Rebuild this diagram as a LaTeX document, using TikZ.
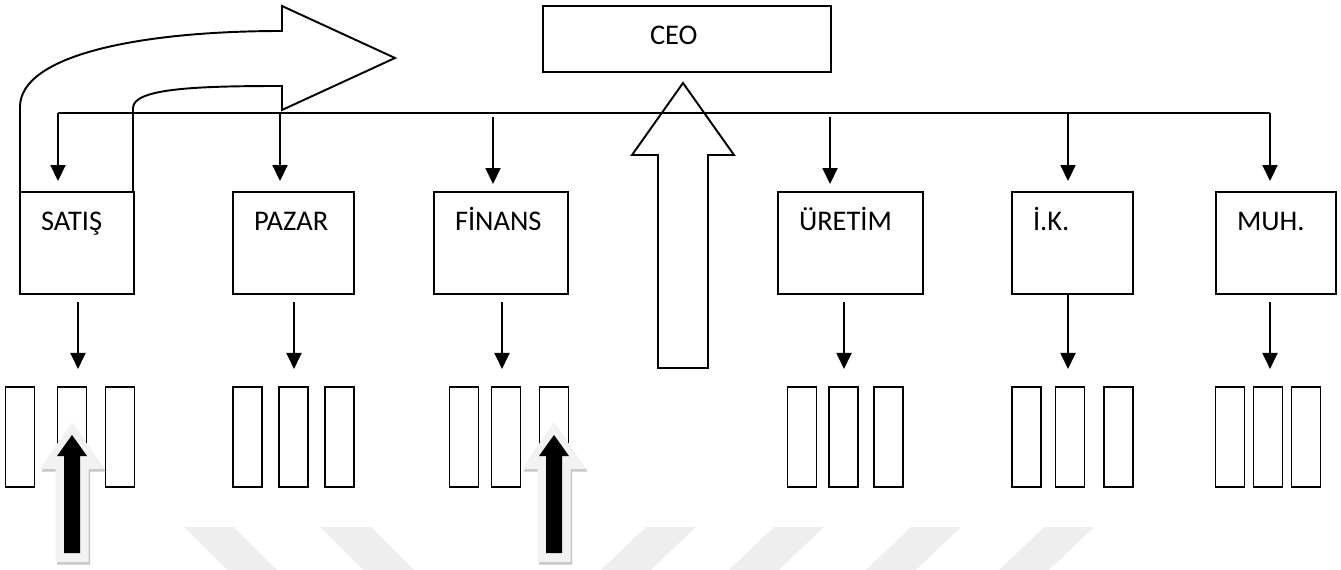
\documentclass[tikz,border=0pt]{standalone}
\usepackage{fontspec}
\setmainfont{Carlito}
\usepackage{tikz}
\usetikzlibrary{arrows.meta}
\usetikzlibrary{calc}

\newcommand{\px}{0.02cm}

\begin{document}
\begin{tikzpicture}[x=\px, y=-\px, line width=1.1pt, line join=miter,
  dept/.style={draw, inner sep=0pt, minimum height=102*\px},
  unit/.style={draw, inner sep=0pt, minimum width=29*\px, minimum height=100*\px},
  deptname/.style={inner sep=0pt, anchor=base west, font=\fontsize{16.2}{19}\selectfont},
  link/.style={-{Triangle[width=0.3cm, length=0.32cm]}},
  wmark/.style={fill=gray!13, draw=none}]
\useasboundingbox (0,0) rectangle (1341,570);
% faint stripes at the bottom
\fill[wmark] (184,527) -- (234,527) -- (277,570) -- (227,570) -- cycle;
\fill[wmark] (320,527) -- (371,527) -- (414,570) -- (363,570) -- cycle;
\foreach \l in {646,774,911,1044}
  \fill[wmark] (\l,527) -- ({\l+50},527) -- ({\l+5},570) -- ({\l-45},570) -- cycle;
% boxes
\node[dept, minimum width=288*\px, minimum height=66*\px] (ceo) at (687,39) {};
\node[dept, minimum width=114*\px] (satis) at (77,243) {};
\node[dept, minimum width=121*\px] (pazar) at (293.5,243) {};
\node[dept, minimum width=134*\px] (finans) at (501,243) {};
\node[dept, minimum width=145*\px] (uretim) at (850.5,243) {};
\node[dept, minimum width=121*\px] (ik) at (1072.5,243) {};
\node[dept, minimum width=120*\px] (muh) at (1276,243) {};
\node[deptname] (ceo-name) at ($(ceo.north west)+(107,39)$) {CEO};
\foreach \d/\t in {satis/SATIŞ, pazar/PAZAR, finans/FİNANS, uretim/ÜRETİM, ik/İ.K., muh/MUH.}
  \node[deptname] (\d-name) at ($(\d.north west)+(21,39)$) {\t};
% bus and drops
\draw ($(satis.north)+(-19,-78)$) -- ($(muh.north)+(-6,-78)$);
\foreach \d/\dx/\ya/\yb in {satis/-19/78/10, pazar/-13.5/78/10, finans/-8/74/7, uretim/-20.5/74/7, ik/-4.5/78/10, muh/-6/78/10}
  \draw[link] ($(\d.north)+(\dx,-\ya)$) -- ($(\d.north)+(\dx,-\yb)$);
\foreach \d/\dx/\gap in {satis/1/7, pazar/0.5/7, finans/1/7, uretim/-6.5/7, ik/-4.5/0, muh/-6/7}
  \draw[link] ($(\d.south)+(\dx,\gap)$) -- ($(\d.south)+(\dx,74)$);
% U-turn arrow over SATIŞ
\draw (20,192) -- (20,107) .. controls (20,55) and (140,31) .. (282,31) -- (282,6) -- (395,58)
  -- (282,110) -- (282,86) .. controls (200,86) and (133,88) .. (133,108) -- (133,192);
% big arrow up to CEO
\draw (658,368) -- (658,155) -- (632,155) -- (683,83) -- (734,155) -- (708,155) -- (708,368) -- cycle;
% small units
\foreach \n/\cx in {satis1/20, satis2/72, satis3/120, pazar1/247.5, pazar2/293.5, pazar3/339.5,
    finans1/464, finans2/506, finans3/554, uretim1/802, uretim2/843.5, uretim3/888.5,
    ik1/1026.5, ik2/1070, ik3/1118.5, muh1/1230, muh2/1268, muh3/1306}
  \node[unit] (\n) at (\cx,437) {};
% black arrows from below
\foreach \cx in {72,554} {
  \fill[gray!45, shift={(1.5,2.5)}] ({\cx-16.5},562) -- ({\cx-16.5},469) -- ({\cx-32},469) -- (\cx,422)
    -- ({\cx+32},469) -- ({\cx+16.5},469) -- ({\cx+16.5},562) -- cycle;
  \fill[gray!10] ({\cx-16.5},562) -- ({\cx-16.5},469) -- ({\cx-32},469) -- (\cx,422)
    -- ({\cx+32},469) -- ({\cx+16.5},469) -- ({\cx+16.5},562) -- cycle;
  \fill[black] ({\cx-8},553) -- ({\cx-8},456) -- ({\cx-15},456) -- (\cx,435)
    -- ({\cx+15},456) -- ({\cx+8},456) -- ({\cx+8},553) -- cycle;
}
\end{tikzpicture}
\end{document}
